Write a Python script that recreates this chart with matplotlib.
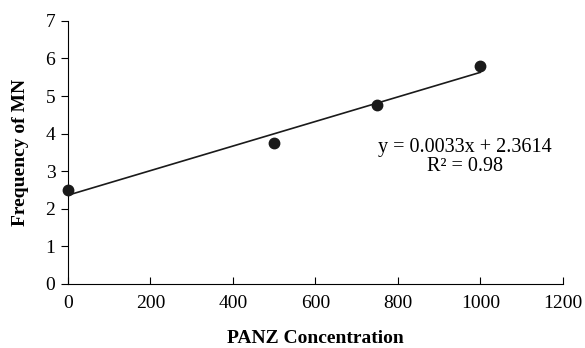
import matplotlib
matplotlib.use('agg')
import numpy as np
import matplotlib.pyplot as plt

# data
conc = [0, 500, 750, 1000]
freq = [2.5, 3.75, 4.75, 5.8]
x_ticks = [0, 200, 400, 600, 800, 1000, 1200]
y_ticks = [0, 1, 2, 3, 4, 5, 6, 7]
eq_text = "y = 0.0033x + 2.3614\nR² = 0.98"

plt.rcParams['font.family'] = ['Liberation Serif', 'DejaVu Serif']
plt.rcParams['font.size'] = 14

fig = plt.figure(figsize=(5.85, 3.48), dpi=100)
ax = fig.add_axes([0.116, 0.184, 0.846, 0.756])

# linear trend line
slope, icpt = np.polyfit(conc, freq, 1)
xl = np.array([min(conc), max(conc)])
ax.plot(xl, slope * xl + icpt, color='#1a1a1a', lw=1.2)
ax.plot(conc, freq, 'o', color='#1a1a1a', ms=7.5, clip_on=False, zorder=3)

ax.set_xlim(0, 1200)
ax.set_ylim(0, 7)
ax.set_xticks(x_ticks)
ax.set_yticks(y_ticks)
ax.spines['top'].set_visible(False)
ax.spines['right'].set_visible(False)
ax.tick_params(axis='x', direction='in', length=5, pad=8)
ax.tick_params(axis='y', direction='out', length=5, pad=4)

ax.set_xlabel('PANZ Concentration', fontweight='bold', labelpad=13)
ax.set_ylabel('Frequency of MN', fontweight='bold', labelpad=12)

ax.text(962, 3.38, eq_text, ha='center', va='center', fontsize=14.5,
        linespacing=1.05)

fig.savefig('out.png', dpi=100)
